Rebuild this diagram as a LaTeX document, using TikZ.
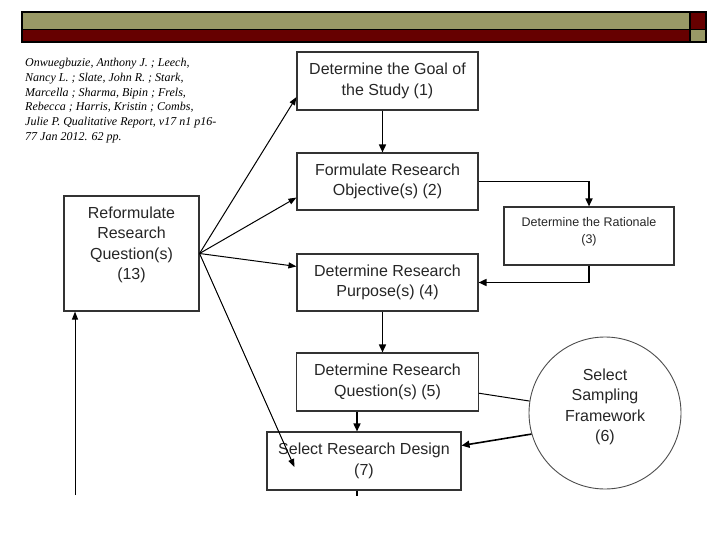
\documentclass[tikz,border=0pt]{standalone}
\usepackage{fontspec}
\setmainfont{Liberation Sans}
\newfontfamily\citefont{Liberation Serif}
\usetikzlibrary{arrows.meta, calc, shapes.geometric}

\definecolor{barolive}{RGB}{153,153,102}
\definecolor{barred}{RGB}{102,0,0}

\tikzset{
  stepbox/.style={draw=black!80, line width=1.1pt, align=center, inner sep=2pt,
    text=black!85, font=\fontsize{16}{20.5}\selectfont},
  flow/.style={line width=1.6pt, -{Triangle[length=8pt,width=7pt]}},
  thinflow/.style={line width=1pt, -{Triangle[length=8pt,width=6pt]}},
}

\begin{document}
\begin{tikzpicture}[x=1pt,y=-1pt]
    \useasboundingbox (0,0) rectangle (720,540);

    % Title bar
    \draw[line width=1.5pt, fill=barolive] (22,12) rectangle (690,29.5);
    \draw[line width=1.5pt, fill=barred] (690,12) rectangle (706,29.5);
    \draw[line width=1.5pt, fill=barred] (22,29.5) rectangle (690,42);
    \draw[line width=1.5pt, fill=barolive] (690,29.5) rectangle (706,42);

    % Citation
    \node[anchor=north west, align=left, inner sep=0pt,
      font=\citefont\itshape\fontsize{12}{14.8}\selectfont] (cite) at (25,58)
      {Onwuegbuzie, Anthony J. ; Leech,\\
       Nancy L. ; Slate, John R. ; Stark,\\
       Marcella ; Sharma, Bipin ; Frels,\\
       Rebecca ; Harris, Kristin ; Combs,\\
       Julie P. Qualitative Report, v17 n1 p16-\\
       77 Jan 2012. 62 pp.};

    % Steps
    \node[stepbox, minimum width=181pt, minimum height=58pt] (b1) at (387.5,81)
      {Determine the Goal of\\the Study (1)};
    \node[stepbox, minimum width=181pt, minimum height=57pt] (b2) at (387.5,181.5)
      {Formulate Research\\Objective(s) (2)};
    \node[stepbox, minimum width=170pt, minimum height=58pt,
      font=\fontsize{12.5}{17}\selectfont] (b3) at (589,236)
      {Determine the Rationale\\(3)\\[-6pt]~};
    \node[stepbox, minimum width=181pt, minimum height=57pt] (b4) at (387.5,282.5)
      {Determine Research\\Purpose(s) (4)};
    \node[stepbox, minimum width=182pt, minimum height=58pt] (b5) at (387.5,382)
      {Determine Research\\Question(s) (5)};
    \node[stepbox, draw=black!70, line width=0.9pt, circle, minimum size=152pt] (c6) at (605,413)
      {Select\\Sampling\\Framework\\(6)\\[-5pt]~};
    \node[stepbox, minimum width=194pt, minimum height=58pt] (b7) at (364,461)
      {Select Research Design\\(7)};
    \node[stepbox, minimum width=135pt, minimum height=115pt] (b13) at (131.5,253.5)
      {Reformulate\\Research\\Question(s)\\(13)\\~};

    % Main flow
    \draw[flow] ([xshift=-5pt]b1.south) -- ([xshift=-5pt]b2.north);
    \draw[flow] (b2.east) -| (b3.north);
    \draw[flow] (b3.south) |- (b4.east);
    \draw[flow] ([xshift=-5pt]b4.south) -- ([xshift=-5pt]b5.north);
    \draw[flow] ([xshift=-30.5pt]b5.south) -- ([xshift=-30.5pt]b5.south |- b7.north);
    \draw[line width=1pt] (b5.353) -- (c6.171);
    \draw[flow] (c6.196) -- (b7.9);
    \coordinate (out7) at ($(b7.south)+(-7,5)$);
    \draw[flow, -] ([xshift=-7pt]b7.south) -- (out7);

    % Feedback
    \coordinate (in7) at ($(b7.west)+(28,6)$);
    \draw[thinflow] (b13.east) -- (b1.190);
    \draw[thinflow] (b13.east) -- (b2.190);
    \draw[thinflow] (b13.east) -- (b4.170);
    \draw[thinflow] (b13.east) -- (in7);
    \coordinate (back) at (75,495);
    \draw[thinflow] (back) -- (back |- b13.south);
\end{tikzpicture}
\end{document}
